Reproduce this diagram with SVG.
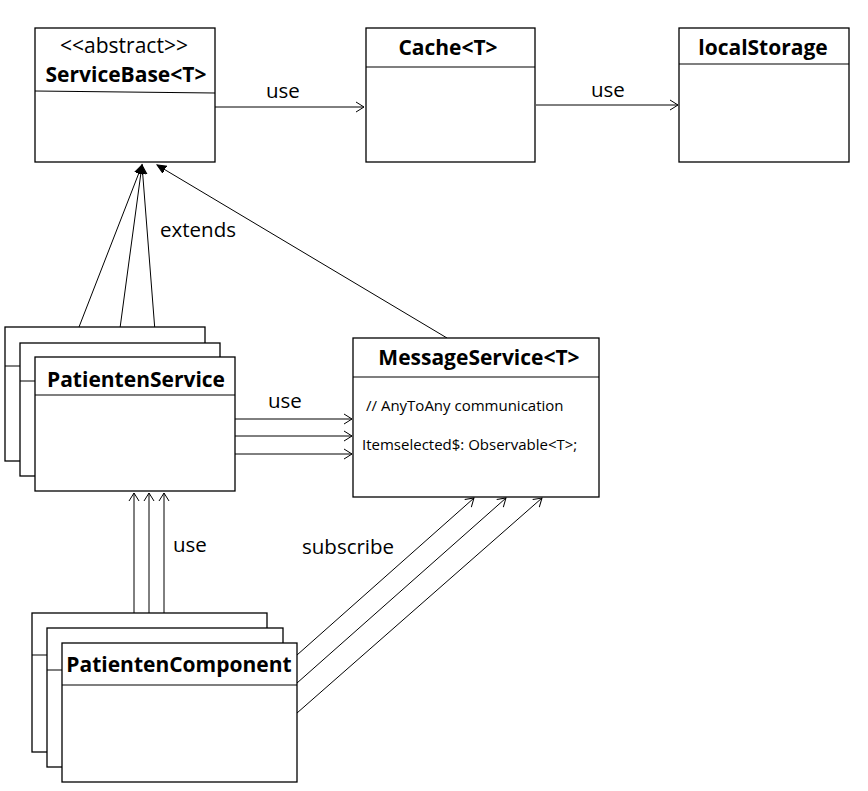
<svg xmlns="http://www.w3.org/2000/svg" width="868" height="791" viewBox="0 0 868 791">
<style>
.box{fill:#fff;stroke:#000;stroke-width:1.3}
.div{stroke:#000;stroke-width:1.2;fill:none}
.t{font-family:"Open Sans","Noto Sans","DejaVu Sans",sans-serif;fill:#000}
.title{font-size:21px;font-weight:bold;text-anchor:middle}
.lbl{font-size:20.5px}
.small{font-size:15px}
.ln{stroke:#000;stroke-width:1;fill:none}
</style>
<defs>
<marker id="open" markerUnits="userSpaceOnUse" markerWidth="12" markerHeight="14" refX="9" refY="6" orient="auto">
<path d="M1,1 L9,6 L1,11" fill="none" stroke="#000" stroke-width="1"/>
</marker>
<marker id="filled" markerUnits="userSpaceOnUse" markerWidth="12" markerHeight="12" refX="9" refY="5" orient="auto">
<path d="M0,1 L9,5 L0,9 Z" fill="#000" stroke="#000" stroke-width="1"/>
</marker>
</defs>
<rect width="868" height="791" fill="#fff"/>

<g id="connectors">
<line class="ln" x1="215" y1="107" x2="364" y2="107" marker-end="url(#open)"/>
<line class="ln" x1="536" y1="105" x2="678" y2="105" marker-end="url(#open)"/>
<line class="ln" x1="79" y1="327" x2="142" y2="165" marker-end="url(#filled)"/>
<line class="ln" x1="118" y1="343" x2="142" y2="165" marker-end="url(#filled)"/>
<line class="ln" x1="157" y1="357" x2="142" y2="165" marker-end="url(#filled)"/>
<line class="ln" x1="447" y1="338" x2="157" y2="165" marker-end="url(#filled)"/>
<line class="ln" x1="235" y1="419" x2="352" y2="419" marker-end="url(#open)"/>
<line class="ln" x1="235" y1="436" x2="352" y2="436" marker-end="url(#open)"/>
<line class="ln" x1="235" y1="454" x2="352" y2="454" marker-end="url(#open)"/>
<line class="ln" x1="134" y1="613" x2="134" y2="493" marker-end="url(#open)"/>
<line class="ln" x1="149" y1="628" x2="149" y2="493" marker-end="url(#open)"/>
<line class="ln" x1="164" y1="643" x2="164" y2="493" marker-end="url(#open)"/>
<line class="ln" x1="297" y1="655" x2="474" y2="498" marker-end="url(#open)"/>
<line class="ln" x1="297" y1="683" x2="506" y2="498" marker-end="url(#open)"/>
<line class="ln" x1="297" y1="713" x2="542" y2="498" marker-end="url(#open)"/>
<text class="t lbl" x="266" y="98">use</text>
<text class="t lbl" x="591" y="97">use</text>
<text class="t lbl" x="160" y="237">extends</text>
<text class="t lbl" x="268" y="408">use</text>
<text class="t lbl" x="173" y="552">use</text>
<text class="t lbl" x="302" y="554">subscribe</text>
</g>

<g id="ServiceBase">
<rect class="box" x="35" y="28" width="180" height="134"/>
<line class="div" x1="35" y1="91" x2="215" y2="93"/>
<text class="t" x="124" y="53" font-size="21" text-anchor="middle">&lt;&lt;abstract&gt;&gt;</text>
<text class="t title" x="126" y="82">ServiceBase&lt;T&gt;</text>
</g>

<g id="Cache">
<rect class="box" x="366" y="28" width="169" height="134"/>
<line class="div" x1="366" y1="67" x2="535" y2="67"/>
<text class="t title" x="448" y="55">Cache&lt;T&gt;</text>
</g>

<g id="localStorage">
<rect class="box" x="679" y="28" width="170" height="134"/>
<line class="div" x1="679" y1="64" x2="849" y2="64"/>
<text class="t title" x="763" y="55">localStorage</text>
</g>

<g id="PatientenService">
<rect class="box" x="5" y="327" width="200" height="134"/>
<line class="div" x1="5" y1="366" x2="205" y2="366"/>
<rect class="box" x="20" y="343" width="200" height="133"/>
<line class="div" x1="20" y1="381" x2="220" y2="381"/>
<rect class="box" x="35" y="357" width="200" height="134"/>
<line class="div" x1="35" y1="395" x2="235" y2="395"/>
<text class="t title" x="136" y="387">PatientenService</text>
</g>

<g id="MessageService">
<rect class="box" x="353" y="338" width="246" height="159"/>
<line class="div" x1="353" y1="377" x2="599" y2="377"/>
<text class="t title" x="479" y="365">MessageService&lt;T&gt;</text>
<text class="t small" x="366" y="411">// AnyToAny communication</text>
<text class="t small" x="362" y="450">Itemselected$: Observable&lt;T&gt;;</text>
</g>

<g id="PatientenComponent">
<rect class="box" x="32" y="613" width="235" height="139"/>
<line class="div" x1="32" y1="655" x2="267" y2="655"/>
<rect class="box" x="47" y="628" width="236" height="139"/>
<line class="div" x1="47" y1="670" x2="283" y2="670"/>
<rect class="box" x="62" y="643" width="235" height="139"/>
<line class="div" x1="62" y1="685" x2="297" y2="685"/>
<text class="t title" x="179" y="672">PatientenComponent</text>
</g>
</svg>
